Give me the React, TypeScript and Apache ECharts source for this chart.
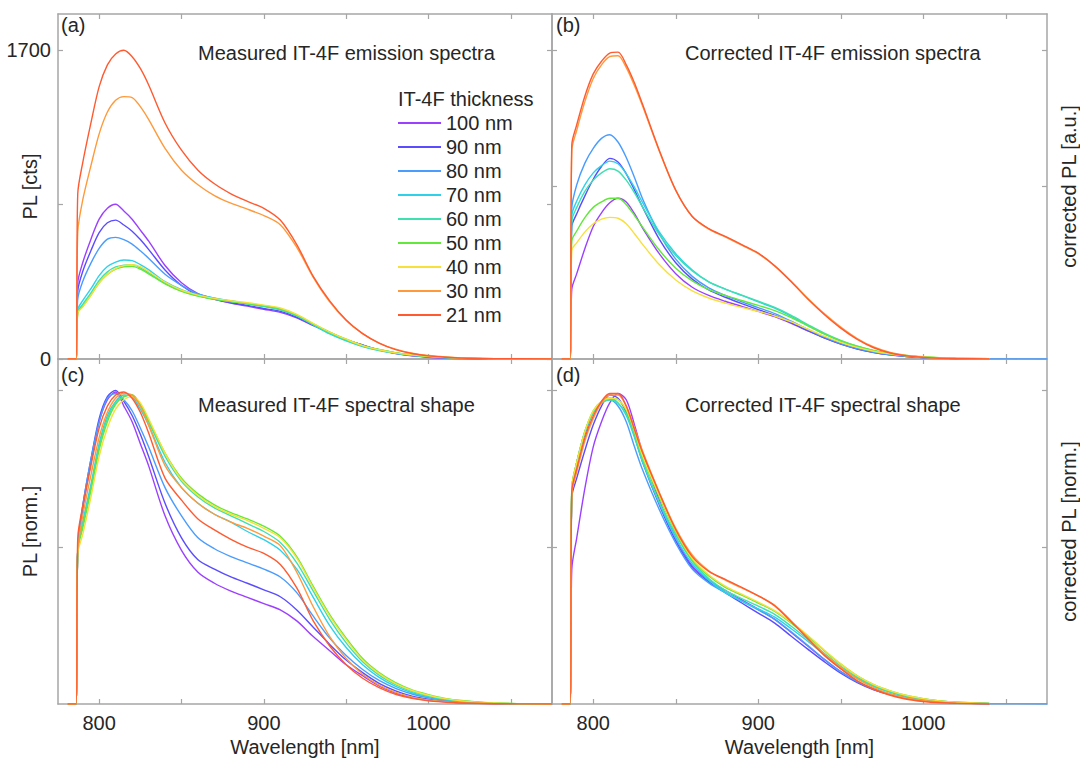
import React, { useEffect, useRef } from 'react';
import * as echarts from 'echarts';

// Wavelength grid [nm]
const WL = [781, 786, 787, 790, 795, 800, 805, 810, 815, 820, 825, 830, 840, 850, 860, 870, 880, 890, 900, 910, 920, 930, 940, 950, 960, 970, 980, 990, 1000, 1010, 1020, 1040, 1075];

const THICKNESS = ['100 nm', '90 nm', '80 nm', '70 nm', '60 nm', '50 nm', '40 nm', '30 nm', '21 nm'];
const COLORS = ['#9b40ff', '#5b4dff', '#4a9cff', '#2fd0ea', '#3ee0b0', '#62e83a', '#f7e03a', '#ff9a3c', '#ff5a30'];

// (a) Measured emission spectra [cts]
const A_100 = [0, 0, 420, 530, 660, 770, 830, 852, 815, 770, 710, 650, 515, 420, 360, 330, 308, 291, 274, 257, 227, 184, 146, 107, 77, 50, 30, 17, 10, 6, 3, 1, 0];
const A_90 = [0, 0, 375, 482, 597, 696, 750, 765, 738, 704, 658, 604, 490, 405, 352, 329, 310, 295, 278, 262, 230, 187, 145, 107, 77, 50, 32, 19, 11, 7, 4, 1, 0];
const A_80 = [0, 0, 332, 427, 528, 609, 660, 670, 657, 633, 596, 555, 467, 406, 359, 335, 318, 305, 291, 274, 240, 190, 142, 105, 74, 51, 34, 22, 14, 8, 5, 1, 0];
const A_70 = [0, 0, 271, 321, 387, 459, 509, 534, 545, 542, 520, 492, 426, 382, 354, 335, 321, 304, 290, 271, 238, 188, 138, 100, 69, 47, 31, 20, 13, 8, 4, 1, 0];
const A_60 = [0, 0, 259, 301, 364, 433, 480, 507, 517, 520, 502, 475, 417, 375, 348, 330, 317, 304, 290, 272, 238, 190, 143, 103, 71, 49, 33, 21, 14, 8, 5, 2, 0];
const A_50 = [0, 0, 254, 290, 352, 420, 466, 495, 508, 510, 495, 469, 414, 373, 347, 329, 316, 306, 294, 277, 243, 194, 148, 109, 75, 52, 35, 23, 16, 9, 6, 2, 0];
const A_40 = [0, 0, 254, 286, 350, 419, 466, 498, 514, 519, 509, 482, 424, 379, 352, 334, 321, 310, 297, 281, 246, 196, 148, 109, 74, 51, 34, 23, 15, 9, 5, 2, 0];
const A_30 = [0, 0, 700, 875, 1065, 1240, 1360, 1425, 1445, 1440, 1390, 1320, 1160, 1040, 960, 900, 858, 825, 790, 740, 615, 450, 315, 212, 140, 88, 54, 32, 19, 11, 6, 2, 0];
const A_21 = [0, 0, 910, 1080, 1300, 1500, 1620, 1680, 1700, 1665, 1600, 1510, 1300, 1150, 1040, 965, 910, 868, 830, 765, 630, 455, 320, 215, 140, 88, 52, 30, 17, 10, 5, 2, 0];

// (b) Corrected emission spectra [a.u.]
const B_100 = [0, 0, 385, 470, 610, 730, 805, 860, 885, 865, 800, 720, 580, 470, 395, 350, 318, 290, 262, 233, 196, 155, 116, 83, 56, 37, 23, 14, 8, 5, 3, 1, null];
const B_90 = [0, 0, 730, 800, 900, 990, 1060, 1105, 1085, 1020, 930, 835, 660, 530, 440, 380, 340, 305, 272, 240, 200, 157, 116, 82, 55, 36, 23, 14, 8, 5, 3, 1, null];
const B_80 = [0, 0, 830, 960, 1080, 1160, 1215, 1235, 1195, 1110, 1000, 880, 690, 550, 455, 392, 350, 315, 283, 250, 208, 163, 120, 85, 57, 37, 23, 14, 8, 5, 3, 1, 0];
const B_70 = [0, 0, 790, 870, 960, 1025, 1065, 1090, 1075, 1020, 945, 860, 700, 580, 490, 425, 385, 350, 315, 280, 235, 185, 138, 98, 67, 44, 28, 17, 10, 6, 3, 1, null];
const B_60 = [0, 0, 760, 835, 925, 985, 1025, 1048, 1035, 985, 915, 835, 685, 570, 485, 425, 385, 352, 318, 284, 240, 190, 142, 102, 70, 46, 29, 18, 11, 6, 4, 1, null];
const B_50 = [0, 0, 650, 705, 780, 835, 865, 885, 885, 850, 790, 725, 600, 500, 430, 382, 350, 322, 295, 266, 228, 183, 138, 100, 70, 47, 30, 19, 12, 7, 4, 1, null];
const B_40 = [0, 0, 600, 640, 700, 745, 770, 780, 775, 745, 690, 630, 520, 435, 375, 336, 308, 284, 262, 237, 204, 165, 126, 92, 64, 43, 28, 18, 11, 7, 4, 1, null];
const B_30 = [0, 0, 1150, 1260, 1420, 1545, 1620, 1665, 1670, 1605, 1505, 1390, 1145, 928, 785, 715, 672, 627, 580, 512, 428, 335, 250, 176, 113, 66, 36, 19, 10, 5, 2, 0, null];
const B_21 = [0, 0, 1180, 1290, 1450, 1570, 1640, 1685, 1690, 1620, 1520, 1400, 1150, 930, 785, 718, 675, 630, 583, 513, 425, 330, 245, 170, 108, 62, 33, 17, 9, 4, 2, 0, null];

// (c) Measured spectral shape [norm.]
const C_100 = [0, 0, 0.49, 0.62, 0.77, 0.9, 0.97, 0.995, 0.95, 0.9, 0.83, 0.76, 0.6, 0.49, 0.42, 0.385, 0.36, 0.34, 0.32, 0.3, 0.265, 0.215, 0.17, 0.125, 0.09, 0.058, 0.035, 0.02, 0.012, 0.007, 0.004, 0.001, 0];
const C_90 = [0, 0, 0.49, 0.63, 0.78, 0.91, 0.98, 1.0, 0.965, 0.92, 0.86, 0.79, 0.64, 0.53, 0.46, 0.43, 0.405, 0.385, 0.364, 0.342, 0.3, 0.245, 0.19, 0.14, 0.1, 0.066, 0.042, 0.025, 0.015, 0.009, 0.005, 0.0015, 0];
const C_80 = [0, 0, 0.49, 0.63, 0.78, 0.9, 0.975, 0.99, 0.97, 0.935, 0.88, 0.82, 0.69, 0.6, 0.53, 0.495, 0.47, 0.45, 0.43, 0.405, 0.355, 0.28, 0.21, 0.155, 0.11, 0.075, 0.05, 0.032, 0.02, 0.012, 0.007, 0.002, 0];
const C_70 = [0, 0, 0.49, 0.58, 0.7, 0.83, 0.92, 0.965, 0.985, 0.98, 0.94, 0.89, 0.77, 0.69, 0.64, 0.605, 0.58, 0.55, 0.524, 0.49, 0.43, 0.34, 0.25, 0.18, 0.125, 0.085, 0.056, 0.036, 0.023, 0.014, 0.008, 0.002, 0];
const C_60 = [0, 0, 0.49, 0.57, 0.69, 0.82, 0.91, 0.96, 0.98, 0.985, 0.95, 0.9, 0.79, 0.71, 0.66, 0.625, 0.6, 0.575, 0.55, 0.515, 0.45, 0.36, 0.27, 0.195, 0.135, 0.092, 0.062, 0.04, 0.026, 0.016, 0.01, 0.003, 0];
const C_50 = [0, 0, 0.49, 0.56, 0.68, 0.81, 0.9, 0.955, 0.98, 0.985, 0.955, 0.905, 0.8, 0.72, 0.67, 0.635, 0.61, 0.59, 0.567, 0.535, 0.47, 0.375, 0.285, 0.21, 0.145, 0.1, 0.068, 0.045, 0.03, 0.018, 0.011, 0.003, 0];
const C_40 = [0, 0, 0.48, 0.54, 0.66, 0.79, 0.88, 0.94, 0.97, 0.98, 0.96, 0.91, 0.8, 0.715, 0.665, 0.63, 0.605, 0.585, 0.56, 0.53, 0.465, 0.37, 0.28, 0.205, 0.14, 0.097, 0.065, 0.043, 0.028, 0.017, 0.01, 0.003, 0];
const C_30 = [0, 0, 0.49, 0.6, 0.73, 0.85, 0.93, 0.975, 0.99, 0.985, 0.95, 0.89, 0.76, 0.69, 0.64, 0.605, 0.58, 0.56, 0.535, 0.505, 0.42, 0.31, 0.215, 0.145, 0.095, 0.06, 0.037, 0.022, 0.013, 0.008, 0.004, 0.001, 0];
const C_21 = [0, 0, 0.53, 0.63, 0.76, 0.88, 0.95, 0.985, 0.995, 0.975, 0.93, 0.865, 0.72, 0.65, 0.59, 0.555, 0.525, 0.5, 0.48, 0.445, 0.37, 0.265, 0.185, 0.125, 0.082, 0.052, 0.031, 0.018, 0.01, 0.006, 0.003, 0.001, 0];

// (d) Corrected spectral shape [norm.]
const D_100 = [0, 0, 0.43, 0.53, 0.69, 0.82, 0.9, 0.96, 0.99, 0.97, 0.89, 0.8, 0.65, 0.53, 0.44, 0.395, 0.362, 0.332, 0.302, 0.27, 0.228, 0.185, 0.142, 0.103, 0.071, 0.047, 0.031, 0.02, 0.012, 0.007, 0.004, 0.001, null];
const D_90 = [0, 0, 0.66, 0.72, 0.81, 0.89, 0.95, 0.985, 0.975, 0.93, 0.855, 0.77, 0.635, 0.52, 0.435, 0.39, 0.355, 0.322, 0.29, 0.258, 0.216, 0.175, 0.135, 0.098, 0.068, 0.045, 0.03, 0.019, 0.012, 0.007, 0.004, 0.001, null];
const D_80 = [0, 0, 0.68, 0.77, 0.86, 0.93, 0.96, 0.97, 0.95, 0.9, 0.82, 0.745, 0.62, 0.513, 0.43, 0.386, 0.355, 0.328, 0.3, 0.27, 0.23, 0.187, 0.143, 0.103, 0.071, 0.047, 0.031, 0.02, 0.012, 0.007, 0.004, 0.001, 0];
const D_70 = [0, 0, 0.68, 0.77, 0.87, 0.93, 0.96, 0.975, 0.96, 0.92, 0.85, 0.77, 0.64, 0.53, 0.447, 0.395, 0.355, 0.328, 0.303, 0.277, 0.24, 0.2, 0.157, 0.116, 0.082, 0.056, 0.037, 0.024, 0.015, 0.009, 0.005, 0.002, null];
const D_60 = [0, 0, 0.69, 0.77, 0.87, 0.93, 0.96, 0.97, 0.96, 0.925, 0.855, 0.775, 0.645, 0.54, 0.455, 0.4, 0.362, 0.336, 0.312, 0.286, 0.248, 0.206, 0.162, 0.12, 0.085, 0.058, 0.039, 0.025, 0.016, 0.01, 0.006, 0.002, null];
const D_50 = [0, 0, 0.69, 0.77, 0.87, 0.935, 0.965, 0.975, 0.97, 0.935, 0.865, 0.785, 0.66, 0.548, 0.46, 0.408, 0.372, 0.347, 0.322, 0.295, 0.258, 0.216, 0.17, 0.127, 0.09, 0.062, 0.042, 0.027, 0.017, 0.01, 0.006, 0.002, null];
const D_40 = [0, 0, 0.69, 0.77, 0.87, 0.935, 0.965, 0.975, 0.97, 0.94, 0.87, 0.79, 0.665, 0.552, 0.464, 0.412, 0.376, 0.35, 0.325, 0.298, 0.261, 0.219, 0.172, 0.128, 0.09, 0.062, 0.042, 0.027, 0.017, 0.01, 0.006, 0.002, null];
const D_30 = [0, 0, 0.67, 0.74, 0.84, 0.91, 0.96, 0.985, 0.985, 0.95, 0.88, 0.805, 0.675, 0.56, 0.475, 0.425, 0.395, 0.37, 0.345, 0.315, 0.265, 0.212, 0.16, 0.117, 0.08, 0.052, 0.032, 0.019, 0.011, 0.006, 0.003, 0.001, null];
const D_21 = [0, 0, 0.68, 0.75, 0.85, 0.918, 0.965, 0.99, 0.99, 0.95, 0.875, 0.8, 0.673, 0.556, 0.47, 0.423, 0.397, 0.372, 0.345, 0.313, 0.262, 0.208, 0.155, 0.112, 0.074, 0.047, 0.028, 0.015, 0.008, 0.004, 0.002, 0, null];

const PANEL_A = [A_100, A_90, A_80, A_70, A_60, A_50, A_40, A_30, A_21];
const PANEL_B = [B_100, B_90, B_80, B_70, B_60, B_50, B_40, B_30, B_21];
const PANEL_C = [C_100, C_90, C_80, C_70, C_60, C_50, C_40, C_30, C_21];
const PANEL_D = [D_100, D_90, D_80, D_70, D_60, D_50, D_40, D_30, D_21];

// Axis ticks and labels
const X_TICKS = [800, 850, 900, 950, 1000, 1050];
const X_LABELS = [800, 900, 1000];
const A_TICKS = [0, 850, 1700];
const A_LABELS = [0, 1700];
const B_TICKS = [950, 1700];
const N_TICKS = [0.5, 1];

const TITLES = ['Measured IT-4F emission spectra', 'Corrected IT-4F emission spectra', 'Measured IT-4F spectral shape', 'Corrected IT-4F spectral shape'];
const PANEL_TAGS = ['(a)', '(b)', '(c)', '(d)'];

const FONT = '"Liberation Sans", Arial, Helvetica, sans-serif';
const FS = 20;
const TXT = '#262626';
const FRAME = '#a6a6a6';

const GRIDS = [
  { left: 58, top: 14, width: 494, height: 345 },
  { left: 552, top: 14, width: 495, height: 345 },
  { left: 58, top: 359, width: 494, height: 345 },
  { left: 552, top: 359, width: 495, height: 345 },
];

const plain = (v: number) => String(v);

function xAxis(grid: number, position: 'top' | 'bottom', labels: boolean, name?: string) {
  return {
    type: 'value',
    gridIndex: grid,
    position,
    min: 775,
    max: 1075,
    splitLine: { show: false },
    axisLine: { show: true, onZero: false, lineStyle: { color: FRAME, width: 1.5 } },
    axisTick: { show: true, inside: true, length: 5, customValues: X_TICKS, lineStyle: { color: FRAME, width: 1.2 } },
    axisLabel: labels
      ? { show: true, customValues: X_LABELS, formatter: plain, margin: 9, fontSize: FS, color: TXT, fontFamily: FONT }
      : { show: false },
    name: name || '',
    nameLocation: 'middle',
    nameGap: 33,
    nameMoveOverlap: false,
    nameTextStyle: { fontSize: FS, color: TXT, fontFamily: FONT },
  };
}

function yAxis(grid: number, position: 'left' | 'right', max: number, ticks: number[], labels: number[] | null, name?: string, nameGap?: number) {
  return {
    type: 'value',
    gridIndex: grid,
    position,
    min: 0,
    max,
    splitLine: { show: false },
    axisLine: { show: true, onZero: false, lineStyle: { color: FRAME, width: 1.5 } },
    axisTick: { show: true, inside: true, length: 5, customValues: ticks, lineStyle: { color: FRAME, width: 1.2 } },
    axisLabel: labels
      ? { show: true, customValues: labels, formatter: plain, margin: 7, fontSize: FS, color: TXT, fontFamily: FONT }
      : { show: false },
    name: name || '',
    nameLocation: 'middle',
    nameRotate: 90,
    nameGap: nameGap ?? 20,
    nameMoveOverlap: false,
    nameTextStyle: { fontSize: FS, color: TXT, fontFamily: FONT },
  };
}

function lineSeries(name: string, color: string, values: (number | null)[], axisIndex: number) {
  return {
    type: 'line',
    name,
    xAxisIndex: axisIndex,
    yAxisIndex: axisIndex,
    data: WL.map((w, i) => [w, values[i]]),
    showSymbol: false,
    symbol: 'none',
    smooth: 0.3,
    connectNulls: false,
    lineStyle: { color, width: 1.4 },
    itemStyle: { color },
    emphasis: { disabled: true },
    silent: true,
  };
}

function textEl(text: string, x: number, y: number, size = FS) {
  return {
    type: 'text',
    x,
    y,
    silent: true,
    style: { text, fill: TXT, font: `${size}px ${FONT}`, align: 'left', verticalAlign: 'middle' },
  };
}

export default function App() {
  const ref = useRef<HTMLDivElement>(null);

  useEffect(() => {
    if (!ref.current) return;
    const chart = echarts.init(ref.current, null, { renderer: 'svg' });

    const panels = [PANEL_A, PANEL_B, PANEL_C, PANEL_D];
    const series: any[] = [];
    panels.forEach((panel, p) => {
      panel.forEach((vals, i) => {
        series.push(lineSeries(THICKNESS[i], COLORS[i], vals, p * 2));
      });
    });

    const option = {
      animation: false,
      backgroundColor: '#ffffff',
      grid: GRIDS.map((g) => ({ ...g, containLabel: false, outerBoundsMode: 'none' })),
      xAxis: [
        xAxis(0, 'bottom', false), xAxis(0, 'top', false),
        xAxis(1, 'bottom', false), xAxis(1, 'top', false),
        xAxis(2, 'bottom', true, 'Wavelength [nm]'), xAxis(2, 'top', false),
        xAxis(3, 'bottom', true, 'Wavelength [nm]'), xAxis(3, 'top', false),
      ],
      yAxis: [
        yAxis(0, 'left', 1900, A_TICKS, A_LABELS, 'PL [cts]', 18),
        yAxis(0, 'right', 1900, A_TICKS, null),
        yAxis(1, 'left', 1900, B_TICKS, null),
        yAxis(1, 'right', 1900, B_TICKS, null, 'corrected PL [a.u.]', 12),
        yAxis(2, 'left', 1.1, N_TICKS, null, 'PL [norm.]', 18),
        yAxis(2, 'right', 1.1, N_TICKS, null),
        yAxis(3, 'left', 1.1, N_TICKS, null),
        yAxis(3, 'right', 1.1, N_TICKS, null, 'corrected PL [norm.]', 12),
      ],
      legend: {
        orient: 'vertical',
        left: 398,
        top: 113,
        padding: 0,
        itemWidth: 43,
        itemHeight: 2,
        itemGap: 4,
        icon: 'rect',
        selectedMode: false,
        data: THICKNESS,
        textStyle: { fontSize: FS, color: TXT, fontFamily: FONT },
      },
      graphic: [
        textEl('IT-4F thickness', 398, 99),
        textEl(TITLES[0], 198, 53),
        textEl(TITLES[1], 685, 53),
        textEl(TITLES[2], 198, 405),
        textEl(TITLES[3], 685, 405),
        textEl(PANEL_TAGS[0], 61, 25),
        textEl(PANEL_TAGS[1], 556, 25),
        textEl(PANEL_TAGS[2], 61, 375),
        textEl(PANEL_TAGS[3], 556, 375),
      ],
      series,
    };

    chart.setOption(option as any);
    return () => chart.dispose();
  }, []);

  return (
    <div
      ref={ref}
      style={{ position: 'fixed', left: 0, top: 0, width: 1080, height: 759, background: '#ffffff' }}
    />
  );
}
